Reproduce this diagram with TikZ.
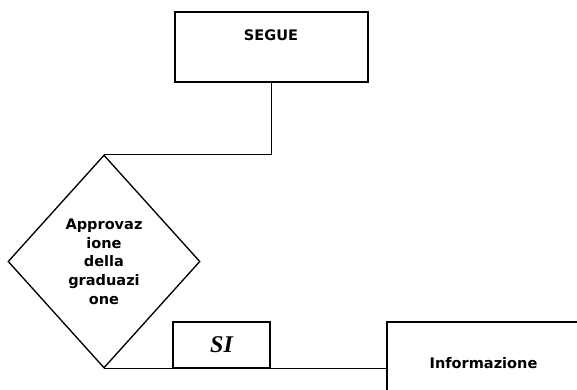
\documentclass[tikz,border=0pt]{standalone}
\usepackage{fontspec}
\usepackage{tikz}
\usetikzlibrary{positioning, shapes.geometric}
\newfontfamily\boxfont{DejaVu Sans}
\newfontfamily\sifont{Liberation Serif}

\tikzset{
    box/.style={draw, line width=1pt, inner sep=0pt},
    txt/.style={font=\boxfont\bfseries\fontsize{10.9}{14}\selectfont, align=center},
    link/.style={line width=1pt}
}

\begin{document}
\begin{tikzpicture}[x=0.75pt, y=-0.75pt]
                \useasboundingbox (0,0) rectangle (577,389);

                %Nodes
                \node[box, minimum width=144.75pt, minimum height=52.5pt] at (271.5,47) (segue) {};
                \node[txt] at (271,35) (seguetext) {SEGUE};
                \node[box, diamond, minimum width=144pt, minimum height=159.75pt, txt] at (104,261.5) (approv)
                    {Approvaz\\ione\\della\\graduazi\\one};
                \node[box, minimum width=72.75pt, minimum height=34.5pt] at (221.5,345) (si)
                    {\sifont\bfseries\itshape\fontsize{18}{20}\selectfont SI};
                \node[box, minimum width=144.75pt, minimum height=61.5pt, txt] at (483.5,363) (info) {Informazione};

                %Lines
                \draw[link] (segue.south) |- (approv.north);
                \draw[link] (approv.south) -- (approv.south -| info.west);
\end{tikzpicture}
\end{document}
